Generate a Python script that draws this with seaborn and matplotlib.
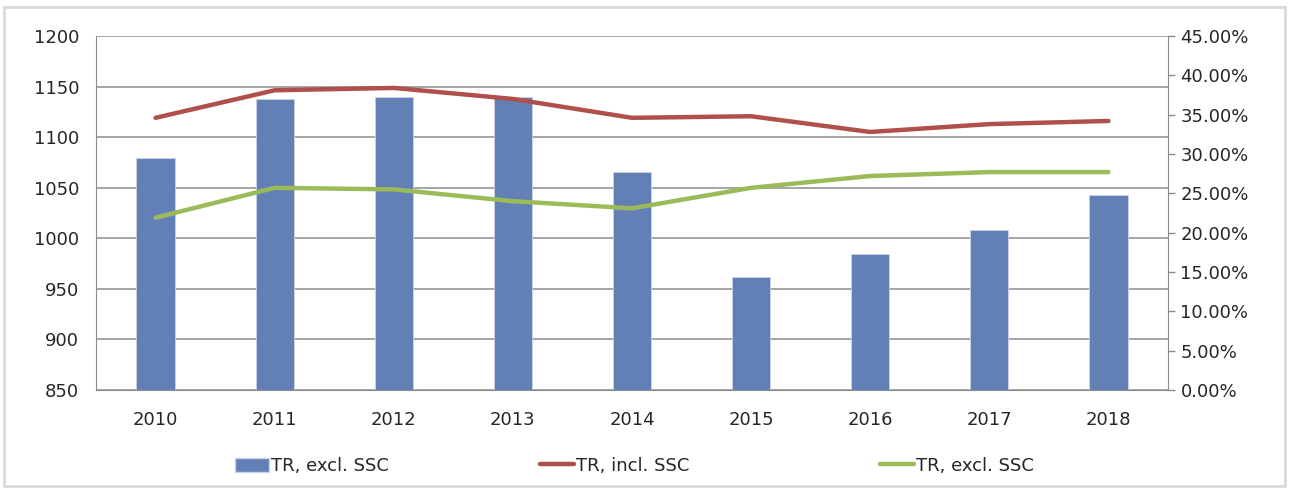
import pandas as pd
import seaborn as sns
import matplotlib.pyplot as plt
from matplotlib.patches import Rectangle, Patch
from matplotlib.lines import Line2D
from matplotlib.ticker import PercentFormatter, MultipleLocator

# values
years = ["2010", "2011", "2012", "2013", "2014", "2015", "2016", "2017", "2018"]
tr_excl_bars = [1079, 1138, 1140, 1140, 1066, 962, 984, 1008, 1043]
tr_incl_pct = [34.6, 38.1, 38.4, 37.0, 34.6, 34.8, 32.8, 33.8, 34.2]
tr_excl_pct = [21.9, 25.7, 25.5, 24.0, 23.1, 25.7, 27.2, 27.7, 27.7]
legend_labels = ["TR, excl. SSC", "TR, incl. SSC", "TR, excl. SSC"]

df = pd.DataFrame({
    "year": years,
    "bars": tr_excl_bars,
    "incl": tr_incl_pct,
    "excl": tr_excl_pct,
})

blue = "#6380B6"
red = "#B0504D"
green = "#9BBB59"
grey = "#8C8C8C"

sns.set_style("white")
plt.rcParams["font.family"] = ["DejaVu Sans"]
plt.rcParams["font.size"] = 13

fig = plt.figure(figsize=(12.89, 4.90), dpi=100)
ax = fig.add_axes([96 / 1289, 1 - 390 / 490, (1168 - 96) / 1289, (390 - 36) / 490])

sns.barplot(data=df, x="year", y="bars", color=blue, width=0.32, saturation=1,
            edgecolor="#C9D3E8", linewidth=0.6, ax=ax, zorder=2)
ax.set_ylim(850, 1200)
ax.yaxis.set_major_locator(MultipleLocator(50))
ax.set_xlim(-0.5, 8.5)
ax.set_xlabel("")
ax.set_ylabel("")
ax.grid(axis="y", color=grey, linewidth=1.1, zorder=0)
ax.set_axisbelow(True)
ax.tick_params(axis="y", length=0, pad=12, labelsize=13)
ax.tick_params(axis="x", length=0, pad=15, labelsize=13)
for side in ["left", "bottom"]:
    ax.spines[side].set_color(grey)
ax.spines["top"].set_visible(False)
ax.spines["right"].set_visible(False)

ax2 = ax.twinx()
sns.lineplot(data=df, x="year", y="incl", color=red, linewidth=3.2,
             ax=ax2, solid_capstyle="round")
sns.lineplot(data=df, x="year", y="excl", color=green, linewidth=3.2,
             ax=ax2, solid_capstyle="round")
ax2.set_ylim(0, 45)
ax2.yaxis.set_major_locator(MultipleLocator(5))
ax2.yaxis.set_major_formatter(PercentFormatter(decimals=2))
ax2.set_ylabel("")
ax2.set_xlabel("")
ax2.tick_params(axis="y", length=5, width=1, color=grey, pad=4, labelsize=13)
ax2.spines["right"].set_color(grey)
for side in ["left", "top", "bottom"]:
    ax2.spines[side].set_visible(False)
ax.set_xlim(-0.5, 8.5)

handles = [
    Patch(facecolor=blue, edgecolor="#C9D3E8"),
    Line2D([], [], color=red, linewidth=3.2),
    Line2D([], [], color=green, linewidth=3.2),
]
# each legend entry placed on its own, as the spacing in the reference is uneven
for h, lab, x0 in zip(handles, legend_labels, [235, 540, 880]):
    fig.legend([h], [lab], loc="center left", bbox_to_anchor=(x0 / 1289, 1 - 466 / 490),
               frameon=False, fontsize=13, handlelength=1.9, handleheight=0.8,
               handletextpad=0.1, borderaxespad=0, borderpad=0)

fig.patches.append(Rectangle((4 / 1289, 4 / 490), 1 - 8 / 1289, 1 - 11 / 490,
                             transform=fig.transFigure, fill=False,
                             edgecolor="#D9D9D9", linewidth=2))

fig.savefig("out.png", dpi=100)
